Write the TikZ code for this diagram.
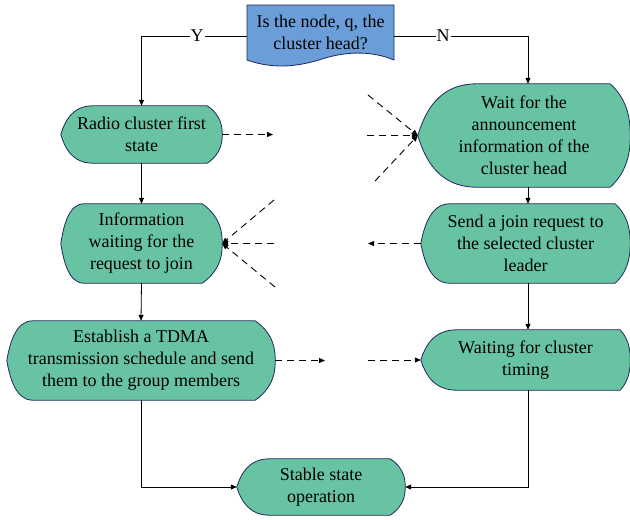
\documentclass[tikz,border=0pt]{standalone}
\usepackage{fontspec}
\setmainfont{Liberation Serif}
\usetikzlibrary{calc,arrows.meta}
\pgfdeclarelayer{paper}
\pgfdeclarelayer{background}
\pgfsetlayers{paper,background,main}

\definecolor{boxgreen}{HTML}{68C3A3}
\definecolor{boxblue}{HTML}{6B9ED8}
\definecolor{boxedge}{HTML}{1C2A5C}

\tikzset{
  proc/.style={inner sep=0pt, align=center, font=\fontsize{18}{22}\selectfont},
  shapeline/.style={draw=boxedge, line width=0.8pt},
  flow/.style={line width=0.8pt, -{Triangle[length=6pt,width=5pt]}},
  dflow/.style={line width=0.9pt, dash pattern=on 7pt off 5pt, -{Triangle[length=6pt,width=5pt]}},
  lbl/.style={fill=white, inner sep=1pt, font=\fontsize{18}{22}\selectfont},
}

% Display-style outline around a named node:
% #1 node name, #2 width of the pointed left side, #3 inset of the rounded right side
\newcommand\displayshape[3]{%
  \begin{pgfonlayer}{background}
  \path[fill=boxgreen, shapeline]
    ([xshift=#2]#1.north west) -- ([xshift=-#3]#1.north east)
    .. controls ($(#1.north east)!0.35!(#1.east)$) and ($(#1.north east)!0.8!(#1.east)$) .. (#1.east)
    .. controls ($(#1.south east)!0.8!(#1.east)$) and ($(#1.south east)!0.35!(#1.east)$) .. ([xshift=-#3]#1.south east)
    -- ([xshift=#2]#1.south west)
    .. controls ([xshift=0.35*#2]#1.south west) and ($(#1.west)!0.45!(#1.south west)+(0.12*#2,0)$) .. (#1.west)
    .. controls ($(#1.west)!0.45!(#1.north west)+(0.12*#2,0)$) and ([xshift=0.35*#2]#1.north west) .. ([xshift=#2]#1.north west)
    -- cycle;
  \end{pgfonlayer}}

\begin{document}
\begin{tikzpicture}[x=1pt,y=-1pt]
  \begin{pgfonlayer}{paper}
    \fill[white] (0,0) rectangle (630,520);
  \end{pgfonlayer}
  \useasboundingbox (0,0) rectangle (630,520);

  % decision (document shape with wavy bottom)
  \path[fill=boxblue, shapeline]
    (247,5) -- (394,5) -- (394,60)
    .. controls (375,52) and (350,50) .. (322,59)
    .. controls (300,66) and (275,70) .. (247,60) -- cycle;
  \node[proc, minimum width=147pt, minimum height=54pt] (dec) at (320.5,32)
    {Is the node, q, the\\cluster head?};

  % process states
  \node[proc, minimum width=161pt, minimum height=57pt] (radio) at (141.5,134.5)
    {Radio cluster first\\state};
  \node[proc, minimum width=161pt, minimum height=79pt] (info) at (141.5,243.5)
    {Information\\waiting for the\\request to join};
  \node[proc, minimum width=268pt, minimum height=79pt] (estab) at (141,360.5)
    {Establish a TDMA\\transmission schedule and send\\them to the group members};
  \node[proc, minimum width=212pt, minimum height=103pt] (wait) at (524,135.5)
    {Wait for the\\announcement\\information of the\\cluster head};
  \node[proc, minimum width=209pt, minimum height=79pt] (send) at (525.5,243.5)
    {Send a join request to\\the selected cluster\\leader};
  \node[proc, minimum width=209pt, minimum height=60pt] (timing) at (525.5,360)
    {Waiting for cluster\\timing};
  \node[proc, minimum width=168pt, minimum height=56pt] (stable) at (321,487)
    {Stable state\\operation};

  \displayshape{radio}{32}{15}
  \displayshape{info}{23}{20}
  \displayshape{estab}{26}{20}
  \displayshape{wait}{59}{20}
  \displayshape{send}{29}{15}
  \displayshape{timing}{36}{10}
  \displayshape{stable}{33}{15}

  % decision branches
  \draw[flow] ([yshift=-4pt]dec.west) -| (radio.north);
  \draw[flow] ([yshift=-4pt]dec.east) -| ([xshift=4pt]wait.north);
  \node[lbl] (ylab) at (197,36) {Y};
  \node[lbl] (nlab) at (443,36) {N};

  % main flow
  \draw[flow] (radio.south) -- (info.north);
  \draw[flow] (info.south) -- (estab.north);
  \draw[flow] ([xshift=4pt]wait.south) -- ([xshift=2.5pt]send.north);
  \draw[flow] ([xshift=2.5pt]send.south) -- ([xshift=2.5pt]timing.north);
  \draw[flow] (estab.south) |- (stable.west);
  \draw[flow] ([xshift=2.5pt]timing.south) |- (stable.east);

  % message exchange (dashed)
  \coordinate (ra) at (273,134.5);
  \draw[dflow] (radio.east) -- (ra);

  \coordinate (wa1) at (368,95);
  \coordinate (wa2) at (367,135.5);
  \coordinate (wa3) at (375,181);
  \draw[dflow] (wa1) -- (wait.west);
  \draw[dflow] (wa2) -- (wait.west);
  \draw[dflow] (wa3) -- (wait.west);

  \coordinate (in1) at (274,200);
  \coordinate (in2) at (274,243.5);
  \coordinate (in3) at (275,287);
  \draw[dflow] (in1) -- (info.east);
  \draw[dflow] (in2) -- (info.east);
  \draw[dflow] (in3) -- (info.east);

  \coordinate (sa) at (368,243.5);
  \draw[dflow] (send.west) -- (sa);

  \coordinate (ea) at (325,360.5);
  \draw[dflow] (estab.east) -- (ea);
  \coordinate (ta) at (368,360);
  \draw[dflow] (ta) -- (timing.west);
\end{tikzpicture}
\end{document}
